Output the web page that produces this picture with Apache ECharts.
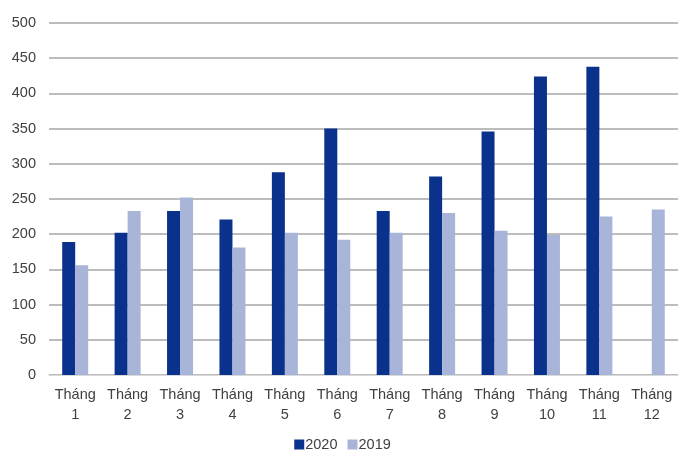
<!DOCTYPE html>
<html>
<head>
<meta charset="utf-8">
<script src="https://cdn.jsdelivr.net/npm/echarts@6/dist/echarts.min.js"></script>
<style>
  html, body { margin: 0; padding: 0; background: #fff; }
  #chart { width: 685px; height: 454px; }
</style>
</head>
<body>
<div id="chart"></div>
<script>
    var months = ['Tháng\n1', 'Tháng\n2', 'Tháng\n3', 'Tháng\n4', 'Tháng\n5', 'Tháng\n6',
        'Tháng\n7', 'Tháng\n8', 'Tháng\n9', 'Tháng\n10', 'Tháng\n11', 'Tháng\n12'];
    var values2020 = [189, 202, 233, 221, 288, 350, 233, 282, 346, 424, 438, null];
    var values2019 = [156, 233, 252, 181, 202, 192, 202, 230, 205, 199, 225, 235];

    var myChart = echarts.init(document.getElementById('chart'), null, { renderer: 'canvas' });
    var textFont = 'Liberation Sans, Arial, sans-serif';

    var option = {
        animation: false,
        textStyle: { fontFamily: textFont },
        grid: { left: 49, right: 7, top: 23, bottom: 79 },
        legend: {
            bottom: -3,
            left: 'center',
            itemWidth: 10,
            itemHeight: 10,
            itemGap: 10,
            icon: 'rect',
            textStyle: { fontSize: 14.5, color: '#404040', padding: [0, 0, 0, -4] },
            data: ['2020', '2019']
        },
        xAxis: {
            type: 'category',
            data: months,
            axisTick: { show: false },
            axisLine: { lineStyle: { color: '#d9d9d9', width: 1 } },
            axisLabel: { color: '#404040', fontSize: 14.5, lineHeight: 20, margin: 10, interval: 0 }
        },
        yAxis: {
            type: 'value',
            min: 0,
            max: 500,
            interval: 50,
            axisLine: { show: false },
            axisTick: { show: false },
            axisLabel: { color: '#404040', fontSize: 14.5, margin: 13 },
            splitLine: { lineStyle: { color: '#a6a6a6', width: 1.5 } }
        },
        series: [
            {
                name: '2020',
                type: 'bar',
                data: values2020,
                barWidth: 13,
                barGap: '0%',
                itemStyle: { color: '#0a318c' }
            },
            {
                name: '2019',
                type: 'bar',
                data: values2019,
                barWidth: 13,
                itemStyle: { color: '#a9b4d9' }
            }
        ]
    };
    myChart.setOption(option);
</script>
</body>
</html>
